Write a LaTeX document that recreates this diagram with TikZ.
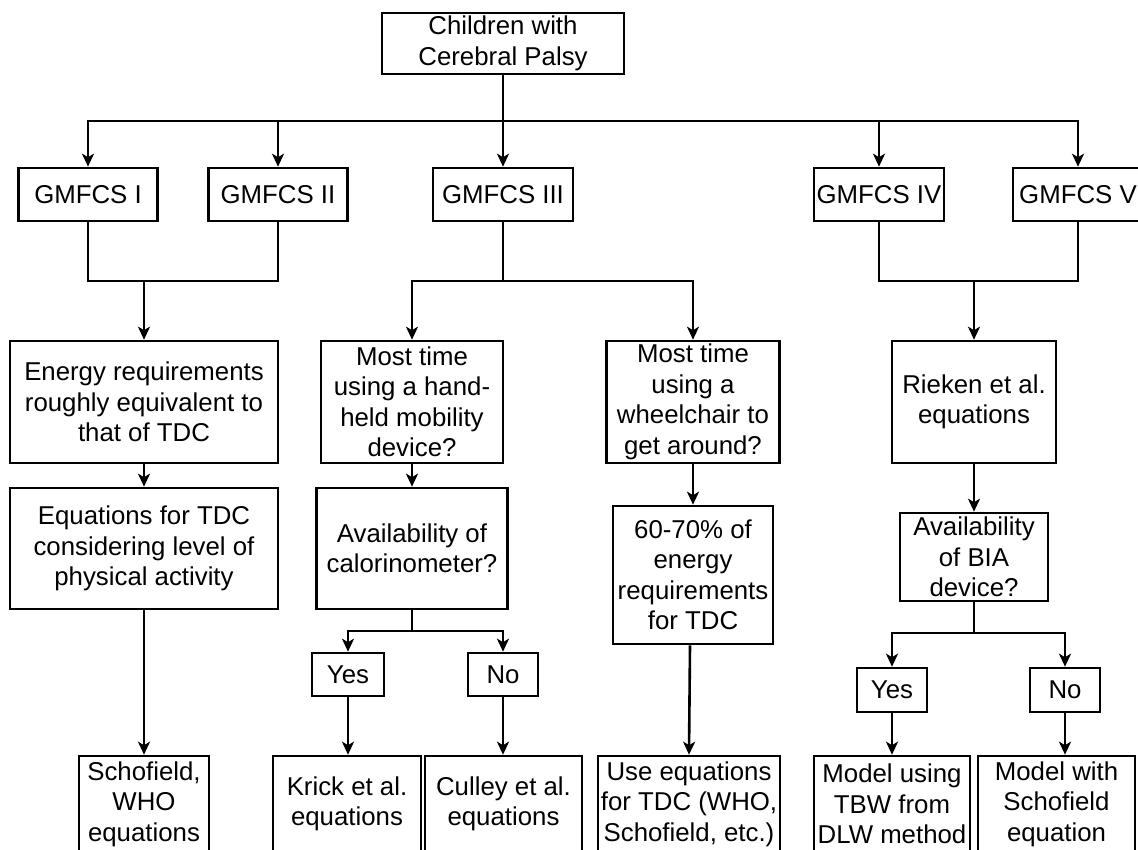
\documentclass[tikz,border=0pt]{standalone}
\usepackage{fontspec}
\setmainfont{Liberation Sans}
\usetikzlibrary{arrows.meta}
\tikzset{
  box/.style={draw=black, line width=2.6pt, fill=white, inner sep=0pt, align=center,
              font=\fontsize{25.8}{30.5}\selectfont},
  conn/.style={draw=black, line width=2.6pt},
  arr/.style={conn, -{Stealth[length=13pt,width=12pt,inset=3.5pt]}}
}
\begin{document}
\begin{tikzpicture}[x=1pt,y=-1pt]
\fill[white] (0,0) rectangle (1138,850);
\clip (0,0) rectangle (1138,850);
% top
\node[box, minimum width=242, minimum height=61] (top) at (503,43.5) {Children with\\Cerebral Palsy};
% GMFCS level
\node[box, minimum width=139, minimum height=53] (g1) at (88,194.5) {GMFCS I};
\node[box, minimum width=139, minimum height=53] (g2) at (278,194.5) {GMFCS II};
\node[box, minimum width=140, minimum height=53] (g3) at (503,194.5) {GMFCS III};
\node[box, minimum width=130, minimum height=53] (g4) at (879,194.5) {GMFCS IV};
\node[box, minimum width=130, minimum height=53] (g5) at (1078,194.5) {GMFCS V};
% second row
\node[box, minimum width=268, minimum height=122] (energy) at (144,402) {Energy requirements\\roughly equivalent to\\that of TDC};
\node[box, minimum width=182, minimum height=122] (hand) at (412,402) {Most time\\using a hand-\\held mobility\\device?};
\node[box, minimum width=173, minimum height=122] (wheel) at (693,402) {Most time\\using a\\wheelchair to\\get around?};
\node[box, minimum width=164, minimum height=122] (rieken) at (974,402) {Rieken et al.\\equations};
% third row
\node[box, minimum width=268, minimum height=121] (eqtdc) at (144,548.5) {Equations for TDC\\considering level of\\physical activity};
\node[box, minimum width=191, minimum height=121] (calor) at (412,548.5) {Availability of\\calorinometer?};
\node[box, minimum width=160, minimum height=138] (sixty) at (693,575) {60-70\% of\\energy\\requirements\\for TDC};
\node[box, minimum width=148, minimum height=88] (bia) at (974,557) {Availability\\of BIA\\device?};
% yes / no
\node[box, minimum width=72, minimum height=43] (yes1) at (348,674.5) {Yes};
\node[box, minimum width=70, minimum height=43] (no1) at (503,674.5) {No};
\node[box, minimum width=70, minimum height=44] (yes2) at (892,690) {Yes};
\node[box, minimum width=70, minimum height=44] (no2) at (1065,690) {No};
% bottom row
\node[box, minimum width=130, minimum height=96] (scho) at (144,804) {Schofield,\\WHO\\equations};
\node[box, minimum width=148, minimum height=96] (krick) at (347,804) {Krick et al.\\equations};
\node[box, minimum width=157, minimum height=96] (culley) at (503.5,804) {Culley et al.\\equations};
\node[box, minimum width=182, minimum height=96] (useeq) at (689,804) {Use equations\\for TDC (WHO,\\Schofield, etc.)};
\node[box, minimum width=156, minimum height=96] (musing) at (892,804) {Model using\\TBW from\\DLW method};
\node[box, minimum width=157, minimum height=96] (mwith) at (1056.5,804) {Model with\\Schofield\\equation};
% connectors
\coordinate (bus) at (503,121);
\draw[conn] (top.south) -- (bus);
\draw[arr] (bus) -| (g1.north);
\draw[arr] (bus) -| (g2.north);
\draw[arr] (bus) -- (g3.north);
\draw[arr] (bus) -| (g4.north);
\draw[arr] (bus) -| (g5.north);
\coordinate (m12) at (144,281);
\draw[conn] (g1.south) |- (m12);
\draw[conn] (g2.south) |- (m12);
\draw[arr] (m12) -- (energy.north);
\coordinate (m3) at (503,281);
\draw[conn] (g3.south) -- (m3);
\draw[arr] (m3) -| (hand.north);
\draw[arr] (m3) -| (wheel.north);
\coordinate (m45) at (974,281);
\draw[conn] (g4.south) |- (m45);
\draw[conn] (g5.south) |- (m45);
\draw[arr] (m45) -- (rieken.north);
\draw[arr] (energy.south) -- (eqtdc.north);
\draw[arr] (eqtdc.south) -- (scho.north);
\draw[arr] (hand.south) -- (calor.north);
\coordinate (bc) at (412,631);
\draw[conn] (calor.south) -- (bc);
\draw[arr] (bc) -| (yes1.north);
\draw[arr] (bc) -| (no1.north);
\draw[arr] (yes1.south) -- (yes1.south |- krick.north);
\draw[arr] (no1.south) -- (no1.south |- culley.north);
\draw[arr] (wheel.south) -- (sixty.north);
\draw[arr] ([xshift=-3pt]sixty.south) -- (useeq.north);
\draw[arr] (rieken.south) -- (bia.north);
\coordinate (bb) at (974,633);
\draw[conn] (bia.south) -- (bb);
\draw[arr] (bb) -| (yes2.north);
\draw[arr] (bb) -| (no2.north);
\draw[arr] (yes2.south) -- (musing.north);
\draw[arr] (no2.south) -- (no2.south |- mwith.north);
\end{tikzpicture}
\end{document}
